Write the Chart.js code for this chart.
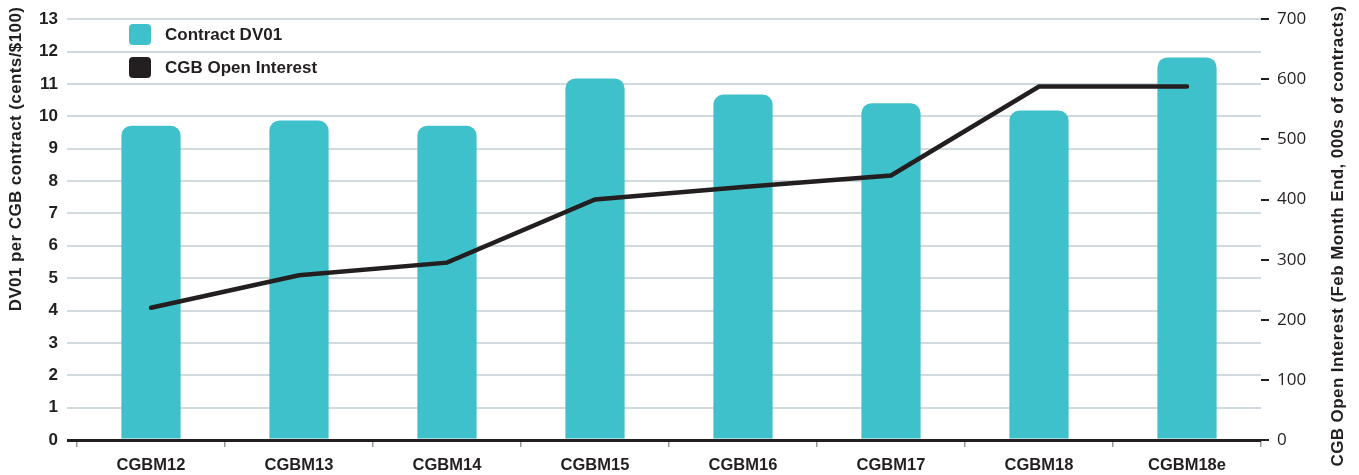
<!DOCTYPE html>
<html lang="en">
<head>
  <meta charset="UTF-8" />
  <title>Contract DV01 and CGB Open Interest</title>
  <style>
    body { margin: 0; background: #fff; }
    #wrap { width: 1359px; height: 475px; }
  </style>
</head>
<body>
  <div id="wrap"><canvas id="chart" width="1359" height="475"></canvas></div>

  <script src="https://cdn.jsdelivr.net/npm/chart.js"></script>
  <script>
    // data
    const categories = ['CGBM12', 'CGBM13', 'CGBM14', 'CGBM15', 'CGBM16', 'CGBM17', 'CGBM18', 'CGBM18e'];
    const dv01 = [9.71, 9.87, 9.71, 11.17, 10.67, 10.4, 10.18, 11.82];
    const openInterest = [220, 274, 295, 400, 421, 440, 588, 588];
    const leftMax = 13;
    const rightMax = 700;
    const rightStep = 100;

    const teal = '#3fc1cb';
    const ink = '#231f20';
    const gridGray = '#d0dadf';
    const boldFont = '"Liberation Sans", Arial, sans-serif';

    // legend drawn inside the plot, top left
    const insideLegend = {
      id: 'insideLegend',
      afterDraw(chart) {
        const ctx = chart.ctx;
        ctx.save();
        chart.data.datasets.forEach((ds, i) => {
          const y = 24 + i * 33;
          ctx.fillStyle = ds.legendColor;
          ctx.beginPath();
          ctx.roundRect(129, y, 22, 21, 4);
          ctx.fill();
          ctx.fillStyle = ink;
          ctx.font = 'bold 17px ' + boldFont;
          ctx.textBaseline = 'middle';
          ctx.fillText(ds.label, 165, y + 11);
        });
        ctx.restore();
      }
    };

    // both axis titles read bottom to top
    const axisTitles = {
      id: 'axisTitles',
      afterDraw(chart) {
        const ctx = chart.ctx;
        const drawTitle = (text, x, y) => {
          ctx.save();
          ctx.translate(x, y);
          ctx.rotate(-Math.PI / 2);
          ctx.font = 'bold 17px ' + boldFont;
          ctx.letterSpacing = '0.4px';
          ctx.fillStyle = ink;
          ctx.textAlign = 'center';
          ctx.textBaseline = 'middle';
          ctx.fillText(text, 0, 0);
          ctx.restore();
        };
        drawTitle('DV01 per CGB contract (cents/$100)', 16, 159);
        drawTitle('CGB Open Interest (Feb Month End, 000s of contracts)', 1338, 236);
      }
    };

    new Chart(document.getElementById('chart'), {
      type: 'bar',
      data: {
        labels: categories,
        datasets: [
          {
            label: 'Contract DV01',
            data: dv01,
            yAxisID: 'y',
            backgroundColor: teal,
            legendColor: teal,
            borderRadius: 10,
            borderSkipped: 'start',
            barPercentage: 0.4,
            categoryPercentage: 1,
            order: 2
          },
          {
            type: 'line',
            label: 'CGB Open Interest',
            data: openInterest,
            yAxisID: 'y1',
            borderColor: ink,
            legendColor: ink,
            borderWidth: 4.5,
            borderCapStyle: 'round',
            borderJoinStyle: 'miter',
            pointRadius: 0,
            tension: 0,
            fill: false,
            order: 1
          }
        ]
      },
      options: {
        responsive: false,
        animation: false,
        layout: { padding: { top: 18, left: 0, right: 0, bottom: 0 } },
        plugins: {
          legend: { display: false },
          tooltip: { enabled: false }
        },
        scales: {
          x: {
            offset: true,
            afterFit: s => { s.height = 35; },
            border: { display: false },
            grid: {
              drawOnChartArea: false,
              drawTicks: true,
              tickLength: 7,
              color: '#9a9a9a',
              lineWidth: 1.5
            },
            ticks: {
              color: ink,
              padding: 9,
              font: { family: boldFont, weight: 'bold', size: 16.5 }
            }
          },
          y: {
            position: 'left',
            min: 0,
            max: leftMax,
            afterFit: s => { s.width = 77; },
            border: { display: false },
            grid: {
              color: c => c.tick && c.tick.value === 0 ? ink : gridGray,
              lineWidth: c => c.tick && c.tick.value === 0 ? 3 : 2,
              tickLength: 10
            },
            ticks: {
              stepSize: 1,
              color: ink,
              padding: 9,
              font: { family: boldFont, weight: 'bold', size: 17 }
            }
          },
          y1: {
            position: 'right',
            min: 0,
            max: rightMax,
            afterFit: s => { s.width = 98; },
            border: { display: false },
            grid: {
              drawOnChartArea: false,
              tickLength: 8,
              color: ink,
              lineWidth: 2
            },
            ticks: {
              stepSize: rightStep,
              color: ink,
              padding: 8,
              font: { family: '"Open Sans", sans-serif', size: 17 }
            }
          }
        }
      },
      plugins: [insideLegend, axisTitles]
    });
  </script>
</body>
</html>
